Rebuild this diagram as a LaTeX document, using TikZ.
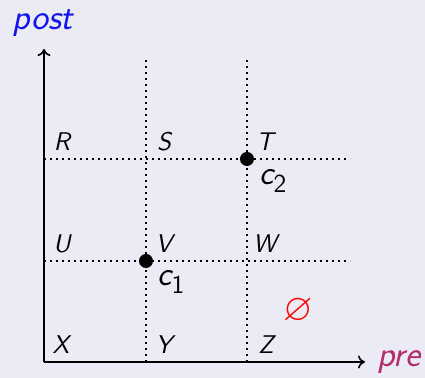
\documentclass[tikz,border=0pt]{standalone}
\usepackage{amssymb}
\usetikzlibrary{arrows.meta}
\definecolor{bgcol}{RGB}{235,235,245}
\definecolor{postcol}{RGB}{20,20,240}
\definecolor{precol}{RGB}{180,45,110}
\newcommand{\csub}[1]{{\fontsize{17}{20}\selectfont c}\raisebox{-4pt}{\upshape\fontsize{13}{15}\selectfont #1}}
\begin{document}
\begin{tikzpicture}[x=0.5pt,y=-0.5pt,
  lab/.style={font=\fontsize{12.8}{15}\selectfont\sffamily\itshape, inner sep=0pt},
  axlab/.style={font=\fontsize{18}{21}\selectfont\sffamily\itshape, inner sep=0pt},
  axis/.style={line width=0.8pt, -{Computer Modern Rightarrow[length=3.5pt,width=6.5pt]}},
  grid/.style={line width=1pt, dotted},
  pt/.style={circle, fill=black, inner sep=0pt, minimum size=7pt}]
\fill[bgcol] (0,0) rectangle (425,378);
\useasboundingbox (0,0) rectangle (425,378);
% coordinates
\coordinate (O) at (44,362);
\coordinate (ytip) at (44,49);
\coordinate (xtip) at (365,362);
\coordinate (v1t) at (146,57);
\coordinate (v1b) at (146,362);
\coordinate (v2t) at (247,57);
\coordinate (v2b) at (247,362);
\coordinate (h1l) at (44,159);
\coordinate (h1r) at (350,159);
\coordinate (h2l) at (44,261);
\coordinate (h2r) at (350,261);
% grid
\draw[grid] (v1b) -- (v1t);
\draw[grid] (v2b) -- (v2t);
\draw[grid] (h1l) -- (h1r);
\draw[grid] (h2l) -- (h2r);
% axes
\draw[axis] (O) -- (ytip);
\draw[axis] (O) -- (xtip);
\node[axlab, text=postcol] (post) at (43,23) {post};
\node[axlab, text=precol, anchor=west] (pre) at (377,362) {pre};
% points
\node[pt] (c2pt) at (247,159) {};
\node[pt] (c1pt) at (146,261) {};
% labels
\node[lab] (R) at (62,142) {R};
\node[lab] (S) at (164,142) {S};
\node[lab] (T) at (265,142) {T};
\node[lab] (U) at (62,244) {U};
\node[lab] (V) at (164,244) {V};
\node[lab] (W) at (265,244) {W};
\node[lab] (X) at (61,345) {X};
\node[lab] (Y) at (164,345) {Y};
\node[lab] (Z) at (266,345) {Z};
\node[lab, anchor=base west] (c2) at (259,185) {\csub{2}};
\node[lab, anchor=base west] (c1) at (157,286) {\csub{1}};
\node[inner sep=0pt, text=red, font=\fontsize{19}{21}\selectfont] (empty) at (298,311) {$\varnothing$};
\end{tikzpicture}
\end{document}
